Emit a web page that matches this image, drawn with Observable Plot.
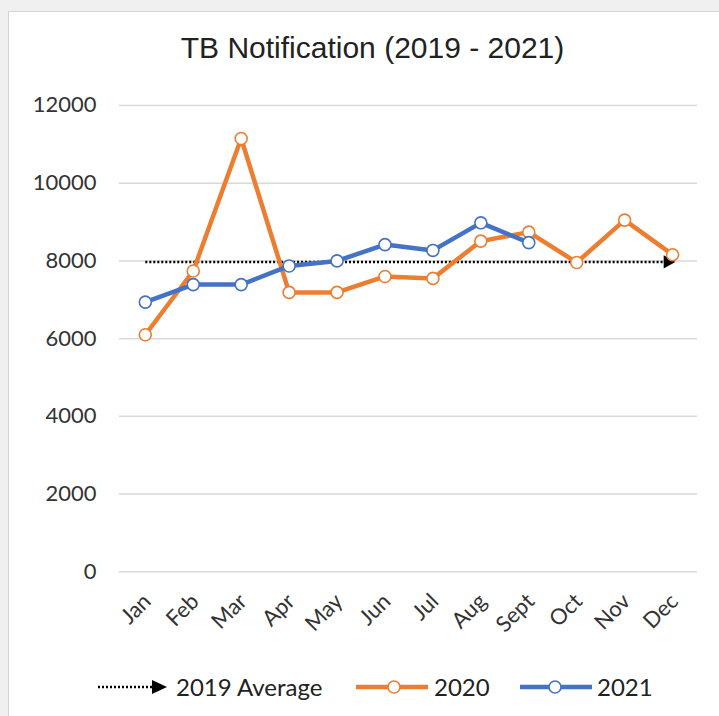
<!DOCTYPE html>
<html>
<head>
<meta charset="utf-8">
<script src="https://cdn.jsdelivr.net/npm/d3@7"></script>
<script src="https://cdn.jsdelivr.net/npm/@observablehq/plot@0.6"></script>
<style>
  html, body { margin: 0; padding: 0; background: #f0f0f0; width: 719px; height: 716px; overflow: hidden; }
  #panel { position: absolute; left: 8px; top: 11px; width: 711px; height: 705px; background: #fff; border-left: 1px solid #d4d4d4; border-top: 1px solid #d4d4d4; box-sizing: border-box; }
  #title { position: absolute; left: 0; top: 0; width: 711px; height: 70px; text-align: center; font-family: "Liberation Sans", Arial, sans-serif; font-size: 30px; color: #222; line-height: 72px; padding-left: 16px; box-sizing: border-box; }
  #chart { position: absolute; left: 0; top: 70px; }
  #legend { position: absolute; left: 0; top: 660px; width: 711px; height: 30px; font-family: Lato, "Open Sans", sans-serif; font-size: 24px; color: #222; }
  .el { position: absolute; top: 0; height: 30px; line-height: 30px; white-space: nowrap; }
  .el svg { display: block; margin-top: 7px; }
</style>
</head>
<body>
<div id="panel">
  <div id="title">TB Notification (2019 - 2021)</div>
  <div id="chart"></div>
  <div id="legend"></div>
</div>
<script>
const months = ["Jan", "Feb", "Mar", "Apr", "May", "Jun", "Jul", "Aug", "Sept", "Oct", "Nov", "Dec"];
const values2020 = [6100, 7740, 11150, 7190, 7190, 7600, 7550, 8510, 8740, 7960, 9050, 8160];
const values2021 = [6940, 7390, 7390, 7870, 8000, 8420, 8270, 8980, 8470];
const average2019 = 7975;
const yTicks = [0, 2000, 4000, 6000, 8000, 10000, 12000];
const seriesNames = ["2019 Average", "2020", "2021"];
const colors = { "2020": "#ED7D31", "2021": "#4472C4" };

const d2020 = values2020.map((v, i) => ({ month: months[i], value: v }));
const d2021 = values2021.map((v, i) => ({ month: months[i], value: v }));
const dAvg = months.map(m => ({ month: m, value: average2019 }));
const dAvgEnd = [dAvg[dAvg.length - 1]];

const chart = Plot.plot({
  width: 711,
  height: 590,
  marginTop: 23,
  marginBottom: 100,
  marginLeft: 110,
  marginRight: 22,
  style: { fontFamily: "Lato, 'Open Sans', sans-serif", fontSize: "22px", color: "#333", background: "transparent", overflow: "visible" },
  x: { type: "point", domain: months, padding: 0.5, label: null },
  y: { domain: [0, 12000], label: null },
  marks: [
    Plot.gridY(yTicks, { stroke: "#d9d9d9", strokeOpacity: 1, strokeWidth: 1.5 }),
    Plot.axisY(yTicks, { tickSize: 0, tickPadding: 23, tickFormat: d => String(d), label: null, fontSize: 22 }),
    Plot.axisX({ tickSize: 0, tickRotate: -45, tickPadding: 26, label: null, fontSize: 22, dx: 2 }),
    Plot.line(dAvg, { x: "month", y: "value", stroke: "black", strokeWidth: 2.5, strokeDasharray: "2 2", strokeLinecap: "butt" }),
    Plot.dot(dAvgEnd, { x: "month", y: "value", symbol: "triangle", rotate: 90, fill: "black", r: 5, dx: -5 }),
    Plot.line(d2020, { x: "month", y: "value", stroke: colors["2020"], strokeWidth: 4.5 }),
    Plot.dot(d2020, { x: "month", y: "value", fill: "white", stroke: colors["2020"], strokeWidth: 1.6, r: 6 }),
    Plot.line(d2021, { x: "month", y: "value", stroke: colors["2021"], strokeWidth: 4.5 }),
    Plot.dot(d2021, { x: "month", y: "value", fill: "white", stroke: colors["2021"], strokeWidth: 1.6, r: 6 })
  ]
});
document.getElementById("chart").appendChild(chart);

// Legend (positions relative to the white panel, which starts at page x = 8)
const legend = document.getElementById("legend");
const parts = [
  { left: 89, html: `<svg width="70" height="16"><line x1="0" y1="8" x2="55" y2="8" stroke="black" stroke-width="2.5" stroke-dasharray="2 2"/><path d="M54,1 L69,8 L54,15 Z" fill="black"/></svg>` },
  { left: 167, html: seriesNames[0] },
  { left: 347, html: `<svg width="72" height="16"><line x1="0" y1="8" x2="72" y2="8" stroke="${colors["2020"]}" stroke-width="4.5"/><circle cx="38" cy="8" r="6" fill="white" stroke="${colors["2020"]}" stroke-width="1.6"/></svg>` },
  { left: 425, html: seriesNames[1] },
  { left: 511, html: `<svg width="72" height="16"><line x1="0" y1="8" x2="72" y2="8" stroke="${colors["2021"]}" stroke-width="4.5"/><circle cx="35" cy="8" r="6" fill="white" stroke="${colors["2021"]}" stroke-width="1.6"/></svg>` },
  { left: 588, html: seriesNames[2] }
];
for (const p of parts) {
  const div = document.createElement("div");
  div.className = "el";
  div.style.left = p.left + "px";
  div.innerHTML = p.html;
  legend.appendChild(div);
}
</script>
</body>
</html>
